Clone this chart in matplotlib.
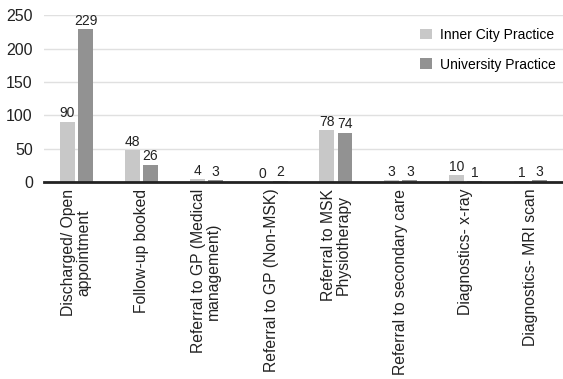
import numpy as np
import matplotlib.pyplot as plt

plt.rcParams['font.family'] = ['Liberation Sans', 'DejaVu Sans']

categories = ['Discharged/ Open\nappointment', 'Follow-up booked',
              'Referral to GP (Medical\nmanagement)', 'Referral to GP (Non-MSK)',
              'Referral to MSK\nPhysiotherapy', 'Referral to secondary care',
              'Diagnostics- x-ray', 'Diagnostics- MRI scan']
inner_city = [90, 48, 4, 0, 78, 3, 10, 1]
university = [229, 26, 3, 2, 74, 3, 1, 3]

x = np.arange(len(categories))
w = 0.23

fig = plt.figure(figsize=(5.63, 3.79), dpi=100)
ax = fig.add_axes([0.078, 0.52, 0.922, 0.44])

b1 = ax.bar(x - 0.14, inner_city, w, color='#c8c8c8', label='Inner City Practice', zorder=3)
b2 = ax.bar(x + 0.14, university, w, color='#929292', label='University Practice', zorder=3)
ax.bar_label(b1, padding=1, fontsize=10, color='#222222')
ax.bar_label(b2, padding=1, fontsize=10, color='#222222')

ax.set_xlim(-0.5, len(categories) - 0.5)
ax.set_ylim(0, 250)
ax.set_yticks([0, 50, 100, 150, 200, 250])
ax.yaxis.grid(True, color='#e0e0e0', linewidth=1, zorder=0)
ax.set_axisbelow(True)
for s in ['top', 'right', 'left']:
    ax.spines[s].set_visible(False)
ax.spines['bottom'].set_color('#222222')
ax.spines['bottom'].set_linewidth(2)
ax.spines['bottom'].set_zorder(4)
ax.tick_params(axis='y', length=0, labelsize=11.5, pad=8, colors='#222222')
ax.tick_params(axis='x', length=0, labelsize=11.3, pad=5, colors='#222222')
ax.set_xticks(x)
ax.set_xticklabels(categories, rotation=90, va='top', ha='center', linespacing=1.0)

ax.legend(loc='upper right', bbox_to_anchor=(1.01, 1.0), frameon=False, fontsize=10,
          handlelength=0.8, handleheight=0.8, handletextpad=0.6, labelspacing=1.15)

fig.savefig('out.png', dpi=100)
